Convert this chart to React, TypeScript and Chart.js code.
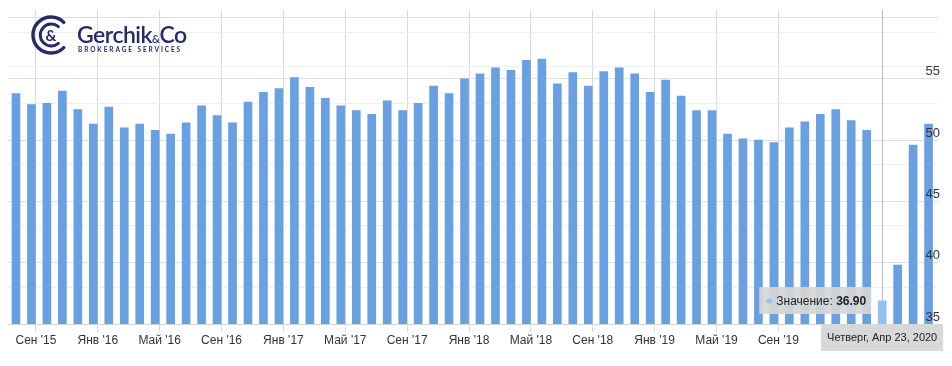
import React, { useEffect, useRef } from 'react';
import { Chart, registerables } from 'chart.js';

Chart.register(...registerables);

// ---- data ----
const VALUES: number[] = [
  53.8, 52.9, 53.0, 54.0, 52.5, 51.3, 52.7, 51.0, 51.3, 50.8,
  50.5, 51.4, 52.8, 52.0, 51.4, 53.1, 53.9, 54.2, 55.1, 54.3,
  53.4, 52.8, 52.4, 52.1, 53.2, 52.4, 53.0, 54.4, 53.8, 55.0,
  55.4, 55.9, 55.7, 56.5, 56.6, 54.6, 55.5, 54.4, 55.6, 55.9,
  55.4, 53.9, 54.9, 53.6, 52.4, 52.4, 50.5, 50.1, 50.0, 49.8,
  51.0, 51.5, 52.1, 52.5, 51.6, 50.8, 36.9, 39.8, 49.6, 51.3,
];
const TICK_LABELS: string[] = [
  "Сен '15", "Янв '16", "Май '16", "Сен '16", "Янв '17", "Май '17", "Сен '17",
  "Янв '18", "Май '18", "Сен '18", "Янв '19", "Май '19", "Сен '19",
];
// tick positions, in bar-index units (month starts lie between release dates)
const TICK_POS: number[] = [1.29, 5.29, 9.29, 13.29, 17.29, 21.29, 25.29, 29.29, 33.29, 37.29, 41.29, 45.29, 49.29];
const Y_TICKS: number[] = [35, 40, 45, 50, 55, 60];
const MINOR_GRID: number[] = [38, 43, 48, 53, 56, 58.8];
const HOVER_INDEX = 56;
const HOVER_DATE = 'Четверг, Апр 23, 2020';
const TOOLTIP_LABEL = 'Значение: ';

const FONT = '"Liberation Sans", Arial, Helvetica, sans-serif';
const BAR = '#68a0e2';
const BAR_HOVER = '#93bff1';
const X_MIN = -0.516;
const X_MAX = 59.61;
const Y_MIN = 35;
const Y_MAX = 60.63;

const overlay = {
  id: 'overlay',
  beforeDatasetsDraw(chart: any) {
    const { ctx, chartArea, scales } = chart;
    const bx = Math.round(scales.x.getPixelForValue(HOVER_INDEX)) + 0.5;
    ctx.save();
    ctx.strokeStyle = '#bcbcbc';
    ctx.lineWidth = 1;
    ctx.beginPath();
    ctx.moveTo(bx, chartArea.top);
    ctx.lineTo(bx, chartArea.bottom);
    ctx.stroke();
    ctx.restore();
  },
  afterDraw(chart: any) {
    const { ctx, chartArea, scales } = chart;
    const bx = scales.x.getPixelForValue(HOVER_INDEX);
    const val = VALUES[HOVER_INDEX];
    const by = scales.y.getPixelForValue(val);
    ctx.save();
    // tooltip
    ctx.font = `12px ${FONT}`;
    const w1 = ctx.measureText(TOOLTIP_LABEL).width;
    ctx.font = `bold 12px ${FONT}`;
    const valText = val.toFixed(2);
    const w2 = ctx.measureText(valText).width;
    const boxW = 17 + w1 + w2 + 5;
    const boxH = 27;
    const right = bx - 11;
    const left = right - boxW;
    const top = Math.round(by - boxH / 2);
    ctx.fillStyle = 'rgba(214,214,214,0.92)';
    ctx.fillRect(left, top, boxW, boxH);
    ctx.fillStyle = BAR_HOVER;
    ctx.beginPath();
    ctx.arc(left + 10, top + boxH / 2 + 0.5, 2.6, 0, Math.PI * 2);
    ctx.fill();
    ctx.fillStyle = '#222';
    ctx.textBaseline = 'middle';
    ctx.textAlign = 'left';
    ctx.font = `12px ${FONT}`;
    ctx.fillText(TOOLTIP_LABEL, left + 17, top + boxH / 2 + 1);
    ctx.font = `bold 12px ${FONT}`;
    ctx.fillText(valText, left + 17 + w1, top + boxH / 2 + 1);
    // crosshair date label
    ctx.font = `11px ${FONT}`;
    const dw = ctx.measureText(HOVER_DATE).width + 12;
    const lx = Math.round(bx - dw / 2);
    const ly = chartArea.bottom;
    ctx.fillStyle = 'rgba(214,214,214,0.95)';
    ctx.fillRect(lx, ly, dw, 27);
    ctx.fillStyle = '#222';
    ctx.textAlign = 'center';
    ctx.fillText(HOVER_DATE, bx, ly + 14);
    ctx.restore();
  },
};

function Logo() {
  const navy = '#262a6b';
  return (
    <>
      <svg
        width={42}
        height={42}
        viewBox="0 0 42 42"
        style={{ position: 'absolute', left: 29, top: 14 }}
      >
        <path d="M 34.8 8.4 A 18 18 0 1 0 34.8 33.6" fill="none" stroke={navy} strokeWidth={3.4} strokeLinecap="round" />
        <path d="M 29.4 12.6 A 11 11 0 1 0 29.4 29.4" fill="none" stroke={navy} strokeWidth={3} strokeLinecap="round" />
        <text x={22} y={27} textAnchor="middle" fontSize={15} fontWeight={700} fill={navy} fontFamily="Lato, sans-serif">&amp;</text>
      </svg>
      <div
        style={{
          position: 'absolute', left: 77, top: 22, color: navy, fontFamily: 'Lato, "Open Sans", sans-serif',
          fontSize: 23, fontWeight: 600, lineHeight: '24px', letterSpacing: -0.5, whiteSpace: 'nowrap',
        }}
      >
        Gerchik<span style={{ fontSize: 11 }}>&amp;</span>Co
      </div>
      <div
        style={{
          position: 'absolute', left: 78, top: 46, color: navy, fontFamily: 'Lato, "Open Sans", sans-serif',
          fontSize: 6.5, fontWeight: 700, lineHeight: '8px', letterSpacing: 1.9, whiteSpace: 'nowrap',
        }}
      >
        BROKERAGE SERVICES
      </div>
    </>
  );
}

export default function App() {
  const ref = useRef<HTMLCanvasElement>(null);
  useEffect(() => {
    const canvas = ref.current;
    if (!canvas) return;
    const chart = new Chart(canvas, {
      type: 'bar',
      data: {
        datasets: [
          {
            data: VALUES.map((v, i) => ({ x: i, y: v })),
            backgroundColor: VALUES.map((_, i) => (i === HOVER_INDEX ? BAR_HOVER : BAR)),
            barThickness: 8,
            borderWidth: 0,
          } as any,
        ],
      },
      options: {
        animation: false,
        responsive: false,
        layout: { padding: { left: 8, right: 10, top: 0, bottom: 17.6 } },
        plugins: { legend: { display: false }, tooltip: { enabled: false } },
        scales: {
          x: {
            type: 'linear',
            offset: false,
            min: X_MIN,
            max: X_MAX,
            afterBuildTicks: (s: any) => {
              s.ticks = TICK_POS.map((v) => ({ value: v }));
            },
            ticks: {
              autoSkip: false,
              maxRotation: 0,
              padding: 1,
              color: '#333',
              font: { size: 12, family: FONT },
              callback: (_v: any, i: number) => TICK_LABELS[i],
            },
            grid: { color: '#dadada', tickLength: 8, drawTicks: true, offset: false },
            border: { color: '#d6d6d6' },
          },
          y2: {
            position: 'right',
            min: Y_MIN,
            max: Y_MAX,
            afterBuildTicks: (s: any) => {
              s.ticks = MINOR_GRID.map((v) => ({ value: v }));
            },
            ticks: { display: false },
            grid: { color: '#f0f0f0', drawTicks: false },
            border: { display: false },
          },
          y: {
            position: 'right',
            min: Y_MIN,
            max: Y_MAX,
            afterBuildTicks: (s: any) => {
              s.ticks = Y_TICKS.map((v) => ({ value: v }));
            },
            ticks: {
              z: 1,
              mirror: true,
              padding: 2,
              labelOffset: -7,
              color: '#333',
              font: { size: 13, family: FONT },
              callback: (v: any) => (v === 60 ? '' : String(v)),
            },
            grid: { color: '#e0e0e0', drawTicks: false },
            border: { display: false },
          },
        },
      } as any,
      plugins: [overlay],
    });
    return () => chart.destroy();
  }, []);
  return (
    <div style={{ position: 'fixed', left: 0, top: 0, width: 952, height: 366, background: '#fff', overflow: 'hidden' }}>
      <canvas ref={ref} width={952} height={366} style={{ display: 'block', width: 952, height: 366 }} />
      <Logo />
    </div>
  );
}
